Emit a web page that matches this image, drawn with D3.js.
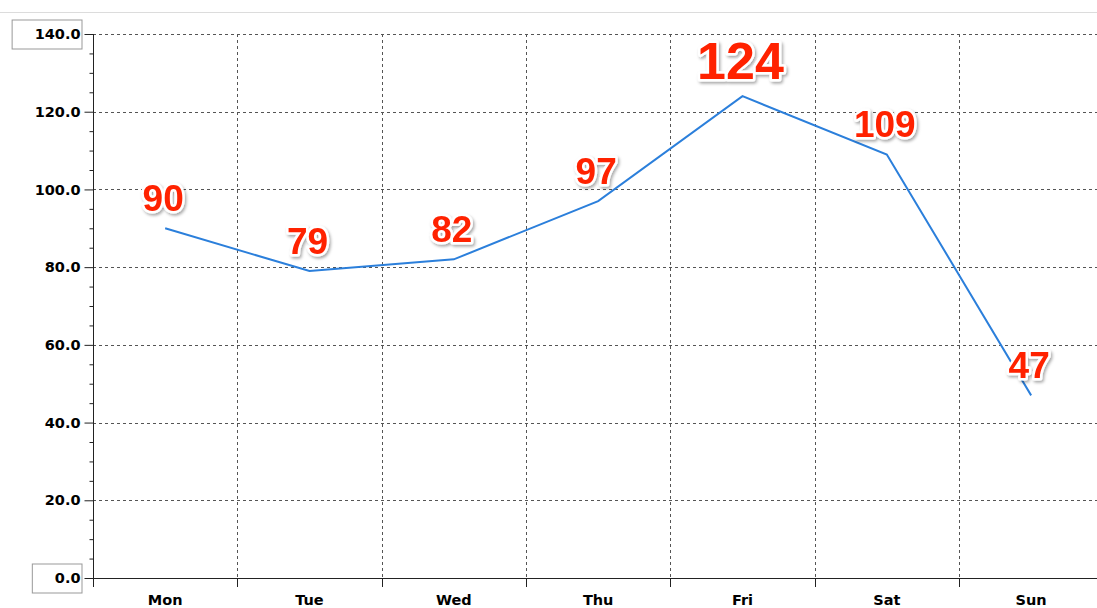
<!DOCTYPE html>
<html>
<head>
<meta charset="utf-8">
<script src="https://cdn.jsdelivr.net/npm/d3@7"></script>
<style>
  html, body { margin: 0; padding: 0; background: #fff; overflow: hidden; }
  #chart { width: 1097px; height: 608px; }
</style>
</head>
<body>
<div id="chart"></div>
<script>
// ---------- Data ----------
const days = ["Mon", "Tue", "Wed", "Thu", "Fri", "Sat", "Sun"];
const values = [90, 79, 82, 97, 124, 109, 47];
const yTicks = [0, 20, 40, 60, 80, 100, 120, 140];

const width = 1097, height = 608;
const plotLeft = 93, plotTop = 34, plotBottom = 578;

const svg = d3.select("#chart")
  .append("svg")
  .attr("width", width)
  .attr("height", height);

// drop shadow for the value labels
const defs = svg.append("defs");
defs.append("filter")
  .attr("id", "shadow")
  .attr("x", "-20%").attr("y", "-20%")
  .attr("width", "140%").attr("height", "150%")
  .append("feDropShadow")
  .attr("dx", 1.5)
  .attr("dy", 2)
  .attr("stdDeviation", 1.6)
  .attr("flood-color", "#000")
  .attr("flood-opacity", 0.35);

// thin top rule
svg.append("line")
  .attr("x1", 0).attr("x2", width)
  .attr("y1", 12.5).attr("y2", 12.5)
  .attr("stroke", "#dcdcdc");

// ---------- Scales ----------
const x = d3.scaleBand()
  .domain(days)
  .range([plotLeft, plotLeft + 7 * 144.33])
  .padding(0);

const y = d3.scaleLinear()
  .domain([0, 140])
  .range([plotBottom, plotTop]);

// ---------- Grid ----------
const grid = svg.append("g")
  .attr("stroke", "#555")
  .attr("stroke-dasharray", "3,3")
  .attr("stroke-width", 1);

grid.selectAll("line.h")
  .data(yTicks.filter(d => d > 0))
  .enter()
  .append("line")
  .attr("x1", plotLeft).attr("x2", width)
  .attr("y1", d => Math.round(y(d)) + 0.5)
  .attr("y2", d => Math.round(y(d)) + 0.5);

grid.selectAll("line.v")
  .data(days.slice(1))
  .enter()
  .append("line")
  .attr("x1", d => Math.round(x(d)) + 0.5)
  .attr("x2", d => Math.round(x(d)) + 0.5)
  .attr("y1", plotTop)
  .attr("y2", plotBottom);

// ---------- Y axis ----------
const minorTicks = d3.range(0, 141, 5).filter(d => d % 20 !== 0);

const yMinor = svg.append("g")
  .attr("transform", `translate(${plotLeft + 0.5},0)`)
  .call(d3.axisLeft(y).tickValues(minorTicks).tickSize(4).tickFormat(""));
yMinor.select(".domain").remove();

const yAxis = svg.append("g")
  .attr("transform", `translate(${plotLeft + 0.5},0)`)
  .call(d3.axisLeft(y).tickValues(yTicks).tickSize(9).tickPadding(4).tickFormat(d3.format(".1f")));
yAxis.select(".domain").remove();
yAxis.selectAll("line").attr("stroke", "#222");
yMinor.selectAll("line").attr("stroke", "#222");
yAxis.selectAll("text")
  .attr("font-family", "DejaVu Sans, sans-serif")
  .attr("font-weight", "bold")
  .attr("font-size", "14.5px")
  .attr("fill", "#000");

// boxes around the end labels
yAxis.selectAll(".tick")
  .filter(d => d === 0 || d === 140)
  .each(function () {
    const t = d3.select(this).select("text");
    const w = t.node().getComputedTextLength();
    d3.select(this).insert("rect", "text")
      .attr("x", -13 - w - 22.5)
      .attr("y", -14.5)
      .attr("width", w + 24)
      .attr("height", 29)
      .attr("fill", "#fff")
      .attr("stroke", "#999");
  });

svg.append("line")
  .attr("x1", plotLeft + 0.5).attr("x2", plotLeft + 0.5)
  .attr("y1", plotTop).attr("y2", plotBottom + 9)
  .attr("stroke", "#222");

// ---------- X axis ----------
svg.append("line")
  .attr("x1", plotLeft).attr("x2", width)
  .attr("y1", plotBottom + 0.5).attr("y2", plotBottom + 0.5)
  .attr("stroke", "#222");

svg.append("g")
  .selectAll("line")
  .data(days.slice(1))
  .enter()
  .append("line")
  .attr("x1", d => Math.round(x(d)) + 0.5)
  .attr("x2", d => Math.round(x(d)) + 0.5)
  .attr("y1", plotBottom)
  .attr("y2", plotBottom + 9)
  .attr("stroke", "#222");

svg.append("g")
  .selectAll("text")
  .data(days)
  .enter()
  .append("text")
  .attr("x", d => x(d) + x.bandwidth() / 2)
  .attr("y", 605)
  .attr("text-anchor", "middle")
  .attr("font-family", "DejaVu Sans, sans-serif")
  .attr("font-weight", "bold")
  .attr("font-size", "14.5px")
  .attr("fill", "#000")
  .text(d => d);

// ---------- Line ----------
const pts = days.map((d, i) => [x(d) + x.bandwidth() / 2, y(values[i])]);

svg.append("path")
  .datum(pts)
  .attr("fill", "none")
  .attr("stroke", "#2b7fdb")
  .attr("stroke-width", 2)
  .attr("d", d3.line());

// ---------- Value labels ----------
const maxVal = d3.max(values);

svg.append("g")
  .selectAll("text")
  .data(values)
  .enter()
  .append("text")
  .attr("x", (d, i) => pts[i][0] - 2)
  .attr("y", (d, i) => pts[i][1] - 17)
  .attr("text-anchor", "middle")
  .attr("font-family", "Liberation Sans, Arial, sans-serif")
  .attr("font-weight", "bold")
  .attr("font-size", d => d === maxVal ? "52px" : "37px")
  .attr("fill", "#ff2200")
  .attr("stroke", "#fff")
  .attr("stroke-width", 5)
  .attr("stroke-linejoin", "round")
  .attr("paint-order", "stroke")
  .attr("filter", "url(#shadow)")
  .text(d => d);
</script>
</body>
</html>
